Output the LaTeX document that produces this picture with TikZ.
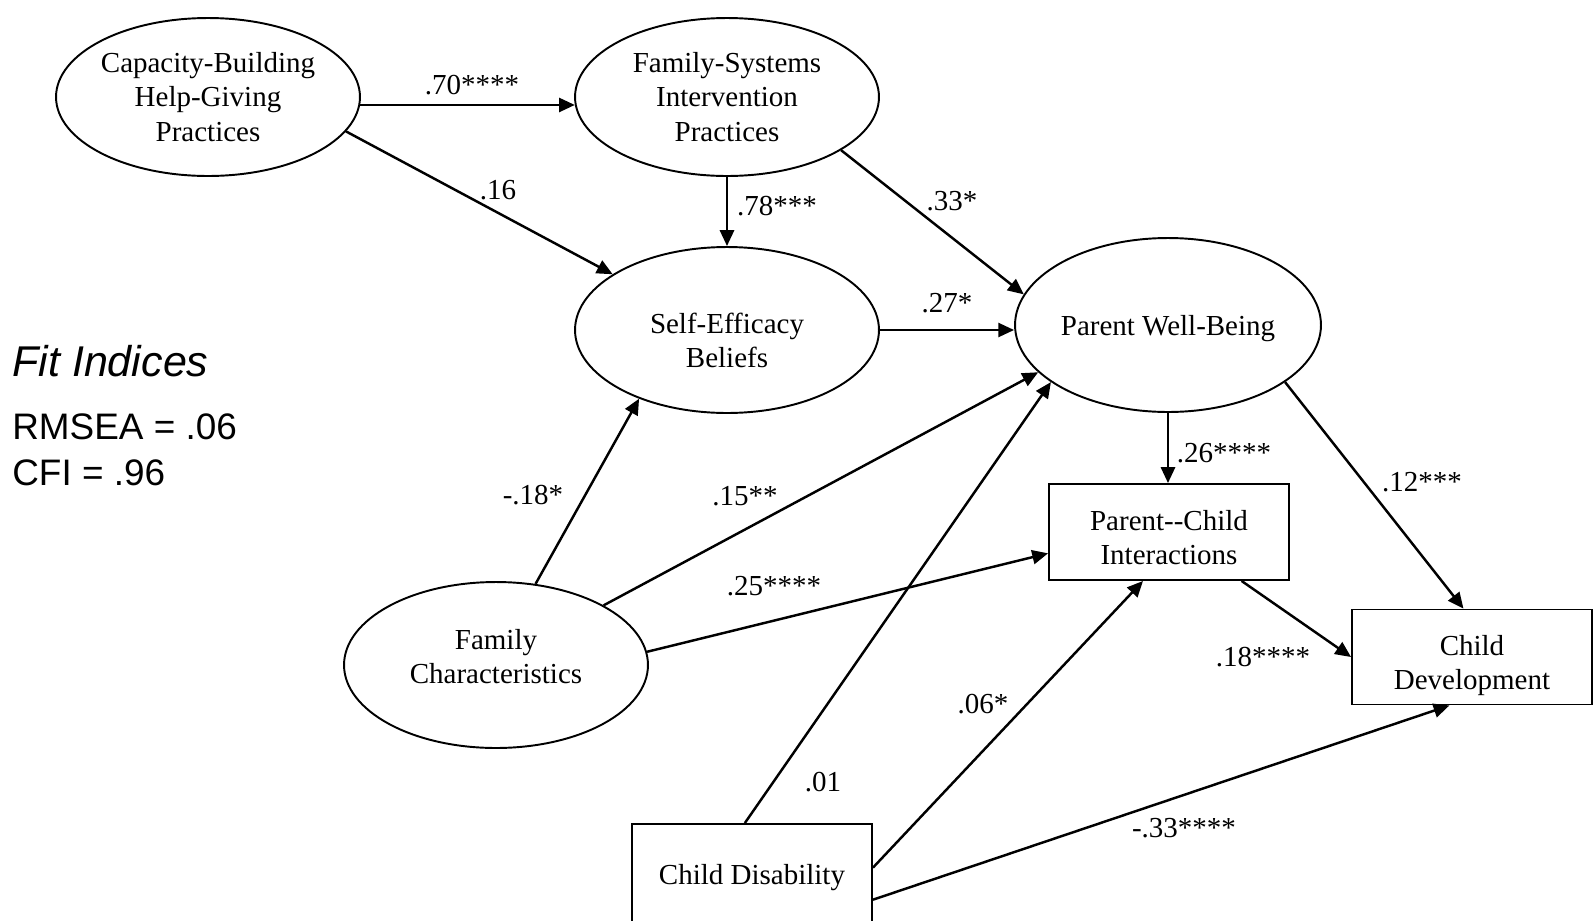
\documentclass[tikz,border=0pt]{standalone}
\usepackage{fontspec}
\setmainfont{Liberation Serif}
\newfontfamily\fitfont{Liberation Sans}
\usetikzlibrary{arrows.meta, shapes.geometric}
\tikzset{
  latent/.style={ellipse,draw,line width=1.1pt,align=center,inner sep=0pt,minimum width=6.08cm,minimum height=3.16cm},
  observed/.style={rectangle,draw,line width=1.1pt,align=center,minimum width=4.8cm,minimum height=1.92cm},
  line/.style={-{Triangle[length=9pt,width=8pt]},line width=1.4pt},
  coef/.style={inner sep=1pt}
}

\begin{document}
\begin{tikzpicture}[x=0.02cm,y=-0.02cm,font=\fontsize{16.5}{19.7}\selectfont]
\useasboundingbox (0,0) rectangle (1593,920);
% latent variables
\node[latent] (cap) at (208,97) {Capacity-Building\\Help-Giving\\Practices};
\node[latent] (fsi) at (727,97) {Family-Systems\\Intervention\\Practices};
\node[latent, minimum height=3.32cm, text height=45pt, text depth=1.8pt] (seb) at (727,330) {Self-Efficacy\\Beliefs};
\node[latent, minimum width=6.12cm, minimum height=3.48cm, text height=15pt, text depth=3.6pt] (pwb) at (1168,325) {Parent Well-Being};
\node[latent, minimum height=3.32cm, text height=25pt, text depth=3.8pt] (fc) at (496,665) {Family\\Characteristics};
% measured variables
\node[observed, text height=38pt, text depth=0.8pt] (pci) at (1169,532) {Parent-{}-Child\\Interactions};
\node[observed, minimum height=1.9cm, text height=39pt, text depth=1.8pt] (cd) at (1472,657) {Child\\Development};
\node[observed, minimum height=2cm, text height=15pt, text depth=3.6pt] (cdis) at (752,874) {Child Disability};
% fit indices
\node[anchor=west, inner sep=0pt, font=\fitfont\itshape\fontsize{24.5}{28}\selectfont] (fit) at (12,361) {Fit Indices};
\node[anchor=west, inner sep=0pt, align=left, font=\fitfont\fontsize{21}{26.2}\selectfont] (idx) at (12,450) {RMSEA = .06\\CFI = .96};
% paths
\draw[line] (cap.-3) -- (fsi.183);
\draw[line] (cap.-14) -- (seb.154);
\draw[line] (fsi) -- (seb);
\draw[line] (fsi.-25) -- (pwb.168);
\draw[line] (seb.east) -- (seb.east -| pwb.west);
\draw[line] (fc.64) -- (seb.218);
\draw[line] (fc.29) -- (pwb.200);
\draw[line] (fc.5) -- (pci.190);
\draw[line] (cdis.98) -- (pwb.206);
\draw[line] (cdis.3) -- (pci.242);
\draw[line] (cdis.-12) -- (cd.245);
\draw[line] (pwb.south) -- (pwb.south |- pci.north);
\draw[line] (pwb.-26) -- (cd.100);
\draw[line] (pci.-34) -- (cd.west);
% coefficients
\node[coef] (c1) at (472,85) {.70****};
\node[coef] (c2) at (498,190) {.16};
\node[coef] (c3) at (777,206) {.78***};
\node[coef] (c4) at (952,201) {.33*};
\node[coef] (c5) at (947,303) {.27*};
\node[coef] (c6) at (533,495) {-.18*};
\node[coef] (c7) at (745,496) {.15**};
\node[coef] (c8) at (774,586) {.25****};
\node[coef] (c9) at (823,782) {.01};
\node[coef] (c10) at (983,704) {.06*};
\node[coef] (c11) at (1184,828) {-.33****};
\node[coef] (c12) at (1224,453) {.26****};
\node[coef] (c13) at (1422,482) {.12***};
\node[coef] (c14) at (1263,657) {.18****};
\end{tikzpicture}
\end{document}
